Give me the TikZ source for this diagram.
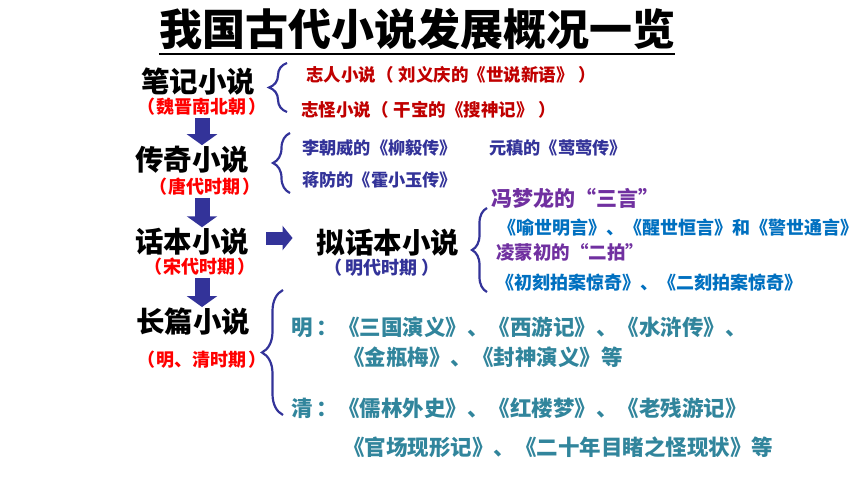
\documentclass[tikz,border=0pt]{standalone}
\usepackage{fontspec}
\setmainfont{Noto Sans CJK SC}
\usetikzlibrary{arrows.meta,decorations.pathreplacing}
\definecolor{navy}{HTML}{333399}
\definecolor{periodred}{HTML}{FF0000}
\definecolor{darkred}{HTML}{C00000}
\definecolor{sanyan}{HTML}{7030A0}
\definecolor{bookblue}{HTML}{0070C0}
\definecolor{novelteal}{HTML}{31859C}
\begin{document}
\begin{tikzpicture}[x=1pt,y=-1pt]

	\tikzset{genre/.style={inner sep=0pt, font=\bfseries\fontsize{28.5}{30}\selectfont}}
	\tikzset{period/.style={inner sep=0pt, text=periodred, font=\bfseries\fontsize{18}{19}\selectfont}}
	\tikzset{work/.style={inner sep=0pt, anchor=west, font=\bfseries\fontsize{17.2}{18}\selectfont}}
	\tikzset{book/.style={work, text=bookblue, font=\bfseries\fontsize{18}{19}\selectfont}}
	\tikzset{novel/.style={work, text=novelteal, font=\bfseries\fontsize{21.5}{23}\selectfont}}
	\tikzset{curly/.style={draw=navy, line width=2.2pt, decorate, decoration={brace, amplitude=#1}}}
	\tikzset{fat arrow/.style={draw=navy, line width=15pt, -{Triangle[length=11pt,width=30pt]}, shorten <=2pt, shorten >=1pt}}

	\useasboundingbox [fill=white] (0,0) rectangle (860,484);

	\node [inner sep=0pt, font=\bfseries\fontsize{43}{45}\selectfont] (title) at (417,29) {我国古代小说发展概况一览};
	\draw [line width=2pt] ([yshift=-4pt]title.south west) -- ([yshift=-4pt]title.south east);

	% left column
	\node [genre] (biji) at (198,82) {笔记小说};
	\node [period] (biji p) at (202,107) {（\hspace{2pt}魏晋南北朝\hspace{2pt}）};
	\node [genre] (chuanqi) at (192,160) {传奇小说};
	\node [period] (chuanqi p) at (205,187) {（\hspace{2pt}唐代时期\hspace{2pt}）};
	\node [genre] (huaben) at (192,242) {话本小说};
	\node [period] (huaben p) at (200,267) {（\hspace{2pt}宋代时期\hspace{2pt}）};
	\node [genre] (changpian) at (193,322) {长篇小说};
	\node [period] (changpian p) at (202,360) {（\hspace{2pt}明、清时期\hspace{2pt}）};

	\node [genre] (nihuaben) at (388,243) {拟话本小说};
	\node [period, text=navy] (nihuaben p) at (382,268) {（\hspace{4pt}明代时期\hspace{4pt}）};

	\coordinate (down) at (202,0);
	\draw [fat arrow] (biji p.south -| down) -- (chuanqi.north -| down);
	\draw [fat arrow] (chuanqi p.south -| down) -- (huaben.north -| down);
	\draw [fat arrow] (huaben p.south -| down) -- (changpian.north -| down);
	\draw [fat arrow, line width=13pt, -{Triangle[length=10pt,width=24pt]}, shorten <=17pt, shorten >=24pt] ([yshift=4pt]huaben.east) -- ([yshift=4pt]huaben.east -| nihuaben.west);

	% braces
	\draw [curly=18pt] (287,112) -- (287,63);
	\draw [curly=17pt] (290,193) -- (290,133);
	\draw [curly=15pt] (487,292) -- (487,208);
	\draw [curly=21pt] (283,415) -- (283,290);

	\node [work, text=darkred, font=\bfseries\fontsize{17.5}{18}\selectfont] (zhiren) at (306,75) {志人小说（\hspace{5pt}刘义庆的《世说新语》\hspace{5pt}）};
	\node [work, text=darkred, font=\bfseries\fontsize{17.5}{18}\selectfont] (zhiguai) at (301,110) {志怪小说（\hspace{5pt}干宝的《搜神记》\hspace{5pt}）};

	\node [work, text=navy] (liuyi) at (302,148) {李朝威的《柳毅传》};
	\node [work, text=navy] (yingying) at (489,148) {元稹的《莺莺传》};
	\node [work, text=navy] (huoxiaoyu) at (302,180) {蒋防的《霍小玉传》};

	\node [work, text=sanyan, font=\bfseries\fontsize{21}{22}\selectfont] (sanyan) at (491,198) {冯梦龙的“三言”};
	\node [book] (sanyan b) at (498,228) {《喻世明言》、《醒世恒言》和《警世通言》};
	\node [work, text=sanyan, font=\bfseries\fontsize{18.5}{20}\selectfont] (erpai) at (496,252) {凌蒙初的“二拍”};
	\node [book] (erpai b) at (496,283) {《初刻拍案惊奇》、《二刻拍案惊奇》};

	\node [novel] (ming1) at (291,327) {明\hspace{4pt}：《三国演义》、《西游记》、《水浒传》、};
	\node [novel] (ming2) at (343,357) {《金瓶梅》、《封神演义》等};
	\node [novel] (qing1) at (291,408) {清\hspace{4pt}：《儒林外史》、《红楼梦》、《老残游记》};
	\node [novel] (qing2) at (343,447) {《官场现形记》、《二十年目睹之怪现状》等};

\end{tikzpicture}
\end{document}
